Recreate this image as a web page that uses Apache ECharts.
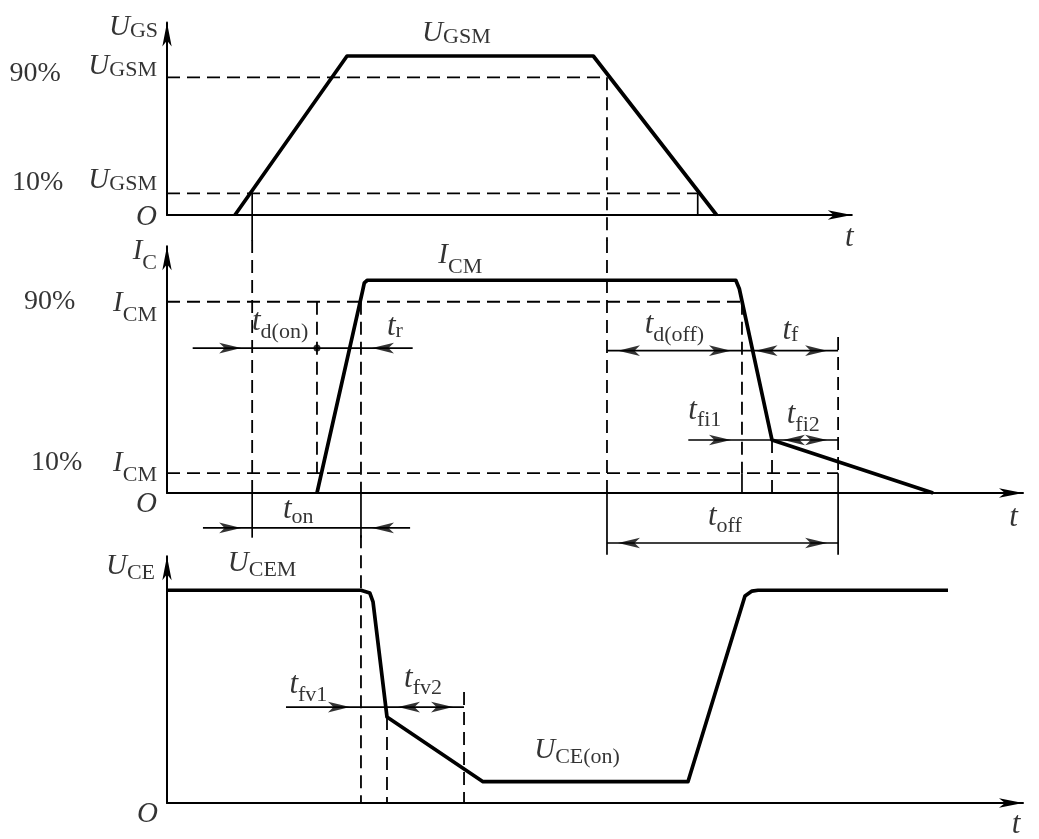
<!DOCTYPE html>
<html>
<head>
<meta charset="utf-8">
<title>IGBT switching waveforms</title>
<script src="https://cdn.jsdelivr.net/npm/echarts@6/dist/echarts.min.js"></script>
<style>
  html, body { margin: 0; padding: 0; background: #fff; }
  #chart { width: 1039px; height: 839px; }
</style>
</head>
<body>
<div id="chart"></div>
<script>
// waveform corner points [t, % of amplitude]
const ugsWave = [[7.94, 0], [21.03, 100], [49.8, 100], [64.2, 0]];
const icWave = [[17.52, 0], [22.85, 95], [23.05, 98.8], [23.4, 100], [66.45, 100], [66.65, 99.3], [66.86, 96], [70.68, 24.9], [89.5, 0]];
const uceWave = [[0, 100], [22.66, 100], [23.7, 98.7], [24.07, 94.5], [25.7, 40.4], [36.92, 10], [60.86, 10], [67.52, 97.3], [68.34, 99.6], [69.04, 100], [91.24, 100]];

// time instants marked by the guides
const tOn10 = 9.95;      // U_GS rises through 10 %
const tIc10 = 17.52;     // I_C starts
const tIc90 = 22.66;     // I_C reaches 90 %
const tFv1 = 25.7;
const tFv2 = 34.7;
const tOff90 = 51.4;     // U_GS falls through 90 %
const tGs10 = 62.0;      // U_GS falls through 10 %
const tIcOff90 = 67.17;  // I_C falls through 90 %
const tFi1 = 70.68;
const tOffEnd = 78.4;

const ugsLevels = [86.6, 13.6]; // 90 %, 10 % U_GSM
const icLevels = [89.9, 9.3];   // 90 %, 10 % I_CM

// heights of the dimension arrows
const tdonRow = 68.1, tonRow = -16.4, tdoffRow = 66.9, tfiRow = 24.9, toffRow = -23.5, tfvRow = 45.1;

// text: [t, level, symbol, subscript, anchor]
const ugsLabels = [
  [-1.05, 118.2, 'U', 'GS', 'right'],
  [-15.4, 89.0, '90%', '', 'center'],
  [-1.17, 93.7, 'U', 'GSM', 'right'],
  [-15.1, 20.4, '10%', '', 'center'],
  [-1.17, 21.7, 'U', 'GSM', 'right'],
  [-1.17, -1.6, 'O', '', 'right'],
  [79.7, -14.5, 't', '', 'center'],
  [29.8, 114.2, 'U', 'GSM', 'left']
];
const icLabels = [
  [-1.17, 113.7, 'I', 'C', 'right'],
  [-13.7, 89.8, '90%', '', 'center'],
  [-1.17, 89.3, 'I', 'CM', 'right'],
  [-12.9, 14.2, '10%', '', 'center'],
  [-1.17, 14.1, 'I', 'CM', 'right'],
  [-1.17, -5.2, 'O', '', 'right'],
  [98.9, -11.7, 't', '', 'center'],
  [31.7, 111.8, 'I', 'CM', 'left'],
  [9.93, 80.4, 't', 'd(on)', 'left'],
  [25.7, 78.0, 't', 'r', 'left'],
  [13.55, -8.0, 't', 'on', 'left'],
  [55.8, 78.9, 't', 'd(off)', 'left'],
  [71.9, 76.1, 't', 'f', 'left'],
  [60.9, 38.8, 't', 'fi1', 'left'],
  [72.4, 36.7, 't', 'fi2', 'left'],
  [63.2, -11.0, 't', 'off', 'left']
];
const uceLabels = [
  [-1.4, 111.4, 'U', 'CE', 'right'],
  [7.1, 112.8, 'U', 'CEM', 'left'],
  [42.9, 24.9, 'U', 'CE(on)', 'left'],
  [14.3, 55.5, 't', 'fv1', 'left'],
  [27.7, 58.5, 't', 'fv2', 'left'],
  [-1.05, -5.2, 'O', '', 'right'],
  [99.2, -10.3, 't', '', 'center']
];

const FONT = '"Liberation Serif", "Times New Roman", serif';
// how far each subscript sits below the main letter
const subDrop = { GS: 's0', GSM: 's0', r: 's0', f: 's0', CE: 's1', CEM: 's1', 'CE(on)': 's1', on: 's1', C: 's3', CM: 's3' };
const rich = {
  m: { fontFamily: FONT, fontStyle: 'italic', fontSize: 29, color: '#000', verticalAlign: 'middle' },
  ti: { fontFamily: FONT, fontStyle: 'italic', fontSize: 31, color: '#000', verticalAlign: 'middle' },
  p: { fontFamily: FONT, fontSize: 28, color: '#000', verticalAlign: 'middle' },
  s0: { fontFamily: FONT, fontSize: 22, color: '#000', verticalAlign: 'middle', padding: [8, 0, 0, 0] },
  s1: { fontFamily: FONT, fontSize: 22, color: '#000', verticalAlign: 'middle', padding: [14, 0, 0, 0] },
  s2: { fontFamily: FONT, fontSize: 22, color: '#000', verticalAlign: 'middle', padding: [20, 0, 0, 0] },
  s3: { fontFamily: FONT, fontSize: 22, color: '#000', verticalAlign: 'middle', padding: [24, 0, 0, 0] }
};

function fmt(main, sub) {
  let key = main === 't' ? 'ti' : (main.indexOf('%') >= 0 ? 'p' : 'm');
  let s = '{' + key + '|' + main + '}';
  if (sub) s += '{' + (subDrop[sub] || 's2') + '|' + sub + '}';
  return s;
}

const lineKinds = {
  wave: { width: 3.7 },
  dash: { width: 1.8, type: [13, 7] },
  thin: { width: 1.7 }
};

function line(g, pts, kind) {
  return {
    type: 'line', xAxisIndex: g, yAxisIndex: g, data: pts,
    symbol: 'none', showSymbol: false, clip: false, silent: true, animation: false,
    z: kind === 'wave' ? 4 : 3,
    lineStyle: Object.assign({ color: '#000', join: 'round', cap: 'butt' }, lineKinds[kind])
  };
}

function heads(g, pts, dir) {
  return {
    type: 'scatter', xAxisIndex: g, yAxisIndex: g, data: pts,
    symbol: 'arrow', symbolSize: [8, 22],
    symbolRotate: dir === 'right' ? -90 : 90,
    symbolOffset: dir === 'right' ? [-11, 0] : [11, 0],
    clip: false, silent: true, animation: false, z: 5,
    itemStyle: { color: '#000' }
  };
}

function labels(g, items) {
  return {
    type: 'scatter', xAxisIndex: g, yAxisIndex: g, clip: false, silent: true, animation: false,
    symbolSize: 1, itemStyle: { color: 'rgba(0,0,0,0)' }, z: 6,
    label: { show: true, color: '#000', textBorderWidth: 0, padding: 0, rich: rich },
    data: items.map(function (d) {
      return {
        value: [d[0], d[1]],
        label: { show: true, position: 'inside', align: d[4], verticalAlign: 'middle', formatter: fmt(d[2], d[3]) }
      };
    })
  };
}

function axis(g, max) {
  return {
    type: 'value', gridIndex: g, min: 0, max: max,
    axisLine: { show: true, onZero: true, symbol: ['none', 'arrow'], symbolSize: [7, 24], lineStyle: { color: '#000', width: 2 } },
    axisTick: { show: false }, axisLabel: { show: false }, splitLine: { show: false }
  };
}

const series = [
  // U_GS panel
  line(0, [[0, ugsLevels[0]], [tOff90, ugsLevels[0]]], 'dash'),
  line(0, [[0, ugsLevels[1]], [tGs10, ugsLevels[1]]], 'dash'),
  line(0, [[tOff90, ugsLevels[0]], [tOff90, -16]], 'dash'),
  line(0, [[tOn10, ugsLevels[1]], [tOn10, -16]], 'thin'),
  line(0, [[tGs10, ugsLevels[1]], [tGs10, 0]], 'thin'),
  line(0, ugsWave, 'wave'),
  labels(0, ugsLabels),

  // I_C panel
  line(1, [[0, icLevels[0]], [tIcOff90, icLevels[0]]], 'dash'),
  line(1, [[0, icLevels[1]], [tOffEnd, icLevels[1]]], 'dash'),
  line(1, [[tOn10, 118.9], [tOn10, 0]], 'dash'),
  line(1, [[tOn10, 0], [tOn10, -21]], 'thin'),
  line(1, [[tOff90, 118.9], [tOff90, 0]], 'dash'),
  line(1, [[tOff90, 0], [tOff90, -29]], 'thin'),
  line(1, [[tIc10, icLevels[0]], [tIc10, icLevels[1]]], 'dash'),
  line(1, [[tIc90, icLevels[0]], [tIc90, 0]], 'dash'),
  line(1, [[tIc90, 0], [tIc90, -21]], 'thin'),
  line(1, [[tIcOff90, icLevels[0]], [tIcOff90, icLevels[1]]], 'dash'),
  line(1, [[tIcOff90, icLevels[1]], [tIcOff90, 0]], 'thin'),
  line(1, [[tFi1, tfiRow], [tFi1, 0]], 'dash'),
  line(1, [[tOffEnd, 73.3], [tOffEnd, icLevels[1]]], 'dash'),
  line(1, [[tOffEnd, icLevels[1]], [tOffEnd, -29]], 'thin'),
  line(1, [[3.0, tdonRow], [28.7, tdonRow]], 'thin'),
  line(1, [[4.2, tonRow], [28.4, tonRow]], 'thin'),
  line(1, [[tOff90, tdoffRow], [tOffEnd, tdoffRow]], 'thin'),
  line(1, [[60.9, tfiRow], [tOffEnd, tfiRow]], 'thin'),
  line(1, [[tOff90, toffRow], [tOffEnd, toffRow]], 'thin'),
  heads(1, [[tOn10, tdonRow], [tOn10, tonRow], [tIcOff90, tdoffRow], [tOffEnd, tdoffRow], [tIcOff90, tfiRow], [tOffEnd, tfiRow], [tOffEnd, toffRow]], 'right'),
  heads(1, [[tIc90, tdonRow], [tIc90, tonRow], [tOff90, tdoffRow], [tIcOff90 + 0.3, tdoffRow], [tFi1, tfiRow], [tOff90, toffRow]], 'left'),
  {
    type: 'scatter', xAxisIndex: 1, yAxisIndex: 1, data: [[tIc10, tdonRow]],
    symbol: 'circle', symbolSize: 7, itemStyle: { color: '#000' }, silent: true, animation: false, z: 5
  },
  line(1, icWave, 'wave'),
  labels(1, icLabels),

  // U_CE panel
  line(2, [[tIc90, 125.9], [tIc90, 0]], 'dash'),
  line(2, [[tFv1, 40.4], [tFv1, 0]], 'dash'),
  line(2, [[tFv2, 52.2], [tFv2, 0]], 'dash'),
  line(2, [[13.9, tfvRow], [tFv2, tfvRow]], 'thin'),
  heads(2, [[tIc90, tfvRow], [tFv2, tfvRow]], 'right'),
  heads(2, [[tFv1, tfvRow]], 'left'),
  line(2, uceWave, 'wave'),
  labels(2, uceLabels)
];

const chart = echarts.init(document.getElementById('chart'), null, { renderer: 'canvas' });
chart.setOption({
  backgroundColor: '#fff',
  animation: false,
  grid: [
    { left: 167, top: 22.6, width: 684.8, height: 192.4, containLabel: false, outerBoundsMode: 'none' },
    { left: 167, top: 246.2, width: 856, height: 246.8, containLabel: false, outerBoundsMode: 'none' },
    { left: 167, top: 556.2, width: 856, height: 246.8, containLabel: false, outerBoundsMode: 'none' }
  ],
  xAxis: [axis(0, 80), axis(1, 100), axis(2, 100)],
  yAxis: [axis(0, 121), axis(1, 116), axis(2, 116)],
  tooltip: { show: false },
  series: series
});
</script>
</body>
</html>
